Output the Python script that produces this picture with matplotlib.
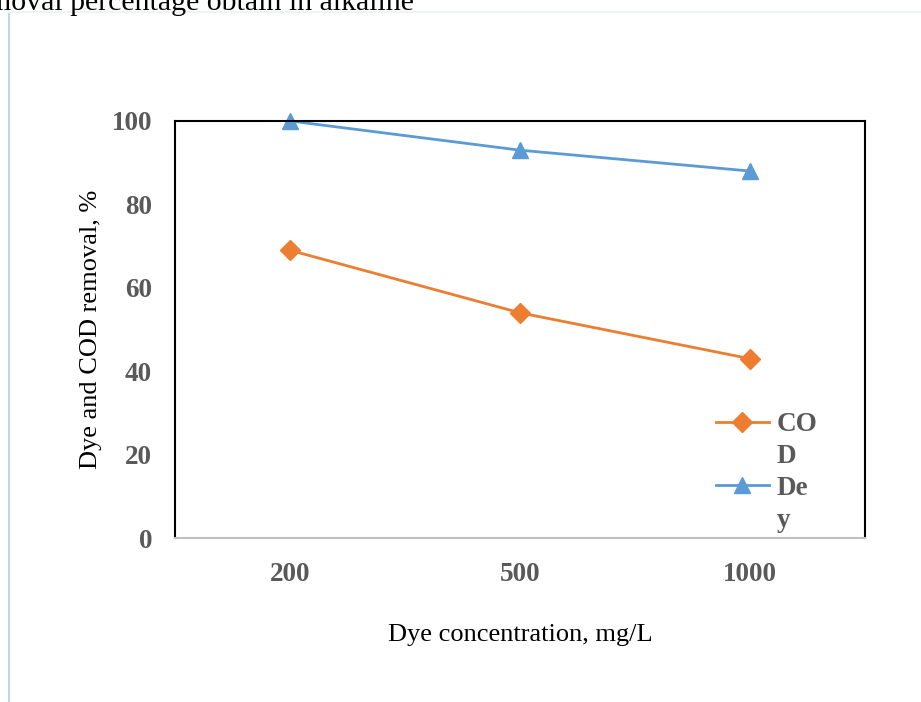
import matplotlib.pyplot as plt
import matplotlib.lines as mlines

# data
concentrations = ['200', '500', '1000']
cod_removal = [69, 54, 43]
dye_removal = [100, 93, 88]

plt.rcParams['font.family'] = ['Liberation Serif', 'DejaVu Serif']

fig = plt.figure(figsize=(9.21, 7.02), dpi=100)
ax = fig.add_axes([175/921, 1 - 538/702, 690/921, 417/702])

x = range(len(concentrations))
cod_line, = ax.plot(x, cod_removal, color='#ed7d31', marker='D', markersize=10, linewidth=2)
dye_line, = ax.plot(x, dye_removal, color='#5b9bd5', marker='^', markersize=12, linewidth=2,
                    clip_on=False)

ax.set_xlim(-0.5, 2.5)
ax.set_ylim(0, 100)
ax.set_yticks([0, 20, 40, 60, 80, 100])
ax.set_xticks(list(x))
ax.set_xticklabels(concentrations)
ax.tick_params(length=0, labelsize=19.5, labelcolor='#595959')
for lab in ax.get_xticklabels() + ax.get_yticklabels():
    lab.set_fontweight('bold')
ax.tick_params(axis='y', pad=16.5)
ax.tick_params(axis='x', pad=17)

for s in ['left', 'top', 'right']:
    ax.spines[s].set_linewidth(1.5)
    ax.spines[s].set_color('black')
ax.spines['bottom'].set_color('#bfbfbf')
ax.spines['bottom'].set_linewidth(1.5)

ax.set_xlabel('Dye concentration, mg/L', fontsize=19, labelpad=27)
ax.set_ylabel('Dye and COD removal, %', fontsize=19, labelpad=7)

# legend labels wrap in the original ("CO / D", "De / y"), handle on first line
blank = mlines.Line2D([], [], linestyle='none', marker='none')
leg = ax.legend([cod_line, blank, dye_line, blank], ['CO', 'D', 'De', 'y'],
                loc='lower left', bbox_to_anchor=(0.784, 0.013), frameon=False,
                prop={'weight': 'bold', 'size': 19.5}, labelspacing=0.25,
                handlelength=1.95, handletextpad=0.3, borderpad=0, borderaxespad=0)
for t in leg.get_texts():
    t.set_color('#595959')

# page frame and cut-off caption from the source document
fig.add_artist(mlines.Line2D([9/921, 9/921], [0, 1 - 12/702], color='#c5d3e8', linewidth=1.5))
fig.add_artist(mlines.Line2D([9/921, 1], [1 - 12/702, 1 - 12/702], color='#eef3fa', linewidth=1.5))
fig.text(-0.013, 1 - 10/702, 'moval percentage obtain in alkaline', fontsize=21.5,
         ha='left', va='baseline')

fig.savefig('out.png', dpi=100)
